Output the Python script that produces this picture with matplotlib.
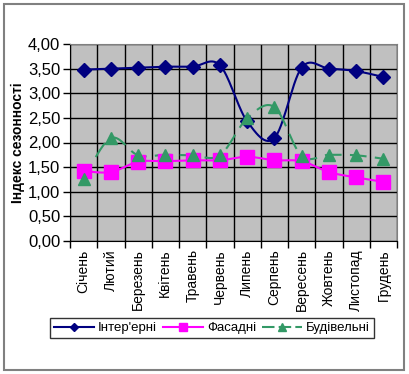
import numpy as np
import matplotlib
matplotlib.use("Agg")
import matplotlib.pyplot as plt
from matplotlib.patches import Rectangle
from matplotlib.lines import Line2D

plt.rcParams['font.family'] = ['Liberation Sans', 'DejaVu Sans']

months = ["Січень", "Лютий", "Березень", "Квітень", "Травень", "Червень",
          "Липень", "Серпень", "Вересень", "Жовтень", "Листопад", "Грудень"]
interior = [3.48, 3.50, 3.52, 3.54, 3.54, 3.57, 2.43, 2.09, 3.52, 3.50, 3.45, 3.33]
facade = [1.42, 1.40, 1.61, 1.62, 1.64, 1.64, 1.71, 1.64, 1.62, 1.40, 1.29, 1.20]
building = [1.26, 2.09, 1.74, 1.75, 1.74, 1.74, 2.49, 2.72, 1.73, 1.75, 1.74, 1.67]
yticks = [0.0, 0.5, 1.0, 1.5, 2.0, 2.5, 3.0, 3.5, 4.0]
ytick_labels = ["0,00", "0,50", "1,00", "1,50", "2,00", "2,50", "3,00", "3,50", "4,00"]
series_names = ["Інтер'ерні", "Фасадні", "Будівельні"]


def smooth(ax, xs, ys, n=30):
    # Catmull-Rom style smoothing in display space (like Excel smoothed lines)
    pts = ax.transData.transform(np.column_stack([xs, ys]))
    P = np.vstack([pts[0], pts, pts[-1]])
    out = []
    for i in range(1, len(P) - 2):
        p0, p1, p2, p3 = P[i - 1], P[i], P[i + 1], P[i + 2]
        t = np.linspace(0, 1, n)[:, None]
        c = 0.5 * ((2 * p1) + (-p0 + p2) * t + (2 * p0 - 5 * p1 + 4 * p2 - p3) * t ** 2
                   + (-p0 + 3 * p1 - 3 * p2 + p3) * t ** 3)
        out.append(c)
    out = np.vstack(out)
    return ax.transData.inverted().transform(out)


fig = plt.figure(figsize=(4.10, 3.74), dpi=100)
ax = fig.add_axes([70 / 410, 1 - 241 / 374, 327 / 410, 197 / 374])
ax.set_facecolor('#C0C0C0')
x = np.arange(len(months))
ax.set_xlim(-0.5, len(months) - 0.5)
ax.set_ylim(0, 4)

ax.set_yticks(yticks)
ax.set_yticklabels(ytick_labels, fontsize=12)
ax.set_xticks(np.arange(-0.5, len(months), 1.0))
ax.set_xticklabels([])
ax.set_xticks(x, minor=True)
ax.set_xticklabels(months, minor=True, rotation=90, fontsize=10)
ax.tick_params(axis='x', which='minor', length=0, pad=6)
ax.tick_params(axis='x', which='major', length=5, direction='out', width=1)
ax.tick_params(axis='y', length=5, direction='out', width=1, pad=2)
ax.grid(True, which='major', color='black', linewidth=1)
ax.set_axisbelow(True)
for s in ['top', 'right']:
    ax.spines[s].set_color('#808080')
for s in ['left', 'bottom']:
    ax.spines[s].set_color('black')

ax.set_ylabel("Індекс сезонності", fontsize=10, fontweight='bold', labelpad=2)

fig.canvas.draw()

c1 = smooth(ax, x, interior)
ax.plot(c1[:, 0], c1[:, 1], color='#000080', lw=1.5, zorder=3, clip_on=False)
ax.plot(x, interior, ls='none', marker='D', ms=7, color='#000080', zorder=4, clip_on=False)

c2 = smooth(ax, x, facade)
ax.plot(c2[:, 0], c2[:, 1], color='#FF00FF', lw=1.5, zorder=3, clip_on=False)
ax.plot(x, facade, ls='none', marker='s', ms=10, color='#FF00FF', zorder=4, clip_on=False)

c3 = smooth(ax, x, building)
ax.plot(c3[:, 0], c3[:, 1], color='#339966', lw=1.5, ls=(0, (8, 4)), zorder=3, clip_on=False)
ax.plot(x, building, ls='none', marker='^', ms=9, color='#339966', zorder=4, clip_on=False)

handles = [
    Line2D([], [], color='#000080', lw=1.5, marker='D', ms=4),
    Line2D([], [], color='#FF00FF', lw=1.5, marker='s', ms=6),
    Line2D([], [], color='#339966', lw=1.5, ls=(0, (6, 2)), marker='^', ms=6),
]
leg = fig.legend(handles, series_names, loc='center', bbox_to_anchor=(212 / 410, 1 - 328 / 374),
                 ncol=3, fontsize=9.5, frameon=True, fancybox=False, borderpad=0.3,
                 handlelength=3.0, handletextpad=0.3, columnspacing=0.5)
leg.get_frame().set_edgecolor('black')
leg.get_frame().set_linewidth(1)

fig.patches.append(Rectangle((4 / 410, 4 / 374), 400 / 410, 366 / 374, transform=fig.transFigure,
                             fill=False, edgecolor='#808080', lw=1.5))

fig.savefig('out.png', dpi=100)
